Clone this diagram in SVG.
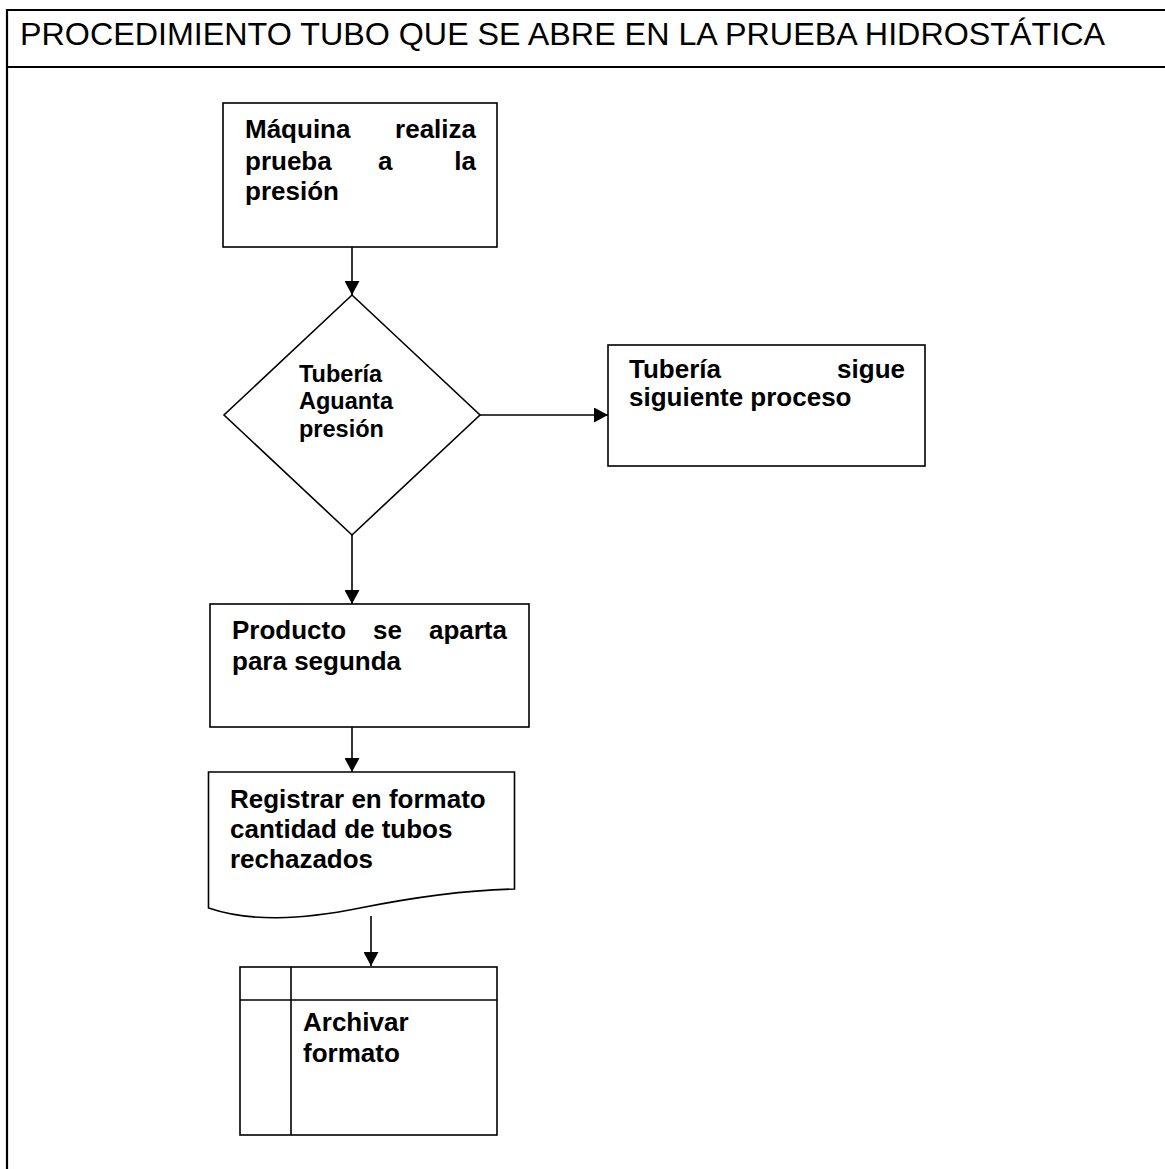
<svg xmlns="http://www.w3.org/2000/svg" width="1165" height="1169" viewBox="0 0 1165 1169">
  <style>
    .frame { fill: none; stroke: #000; stroke-width: 2.2; }
    .shape { fill: #fff; stroke: #000; stroke-width: 1.6; }
    .edge { fill: none; stroke: #000; stroke-width: 1.6; }
    .title { font-family: "Liberation Sans", Arial, sans-serif; font-size: 31px; fill: #000; }
    .lbl { font-family: "Liberation Sans", Arial, sans-serif; font-size: 26px; font-weight: bold; fill: #000; }
    .lbl-s { font-family: "Liberation Sans", Arial, sans-serif; font-size: 23.5px; font-weight: bold; fill: #000; }
  </style>
  <defs>
    <marker id="arrow" markerUnits="userSpaceOnUse" markerWidth="15" markerHeight="15" refX="14" refY="7.5" orient="auto">
      <path d="M0,0 L14,7.5 L0,15 Z" fill="#000"/>
    </marker>
  </defs>

  <rect width="1165" height="1169" fill="#fff"/>

  <!-- page frame with title band -->
  <g id="frame">
    <line class="frame" x1="7" y1="10" x2="1165" y2="10"/>
    <line class="frame" x1="7" y1="67" x2="1165" y2="67"/>
    <line class="frame" x1="7" y1="9" x2="7" y2="1169"/>
    <text class="title" x="20" y="45" textLength="1085" lengthAdjust="spacingAndGlyphs">PROCEDIMIENTO TUBO QUE SE ABRE EN LA PRUEBA HIDROSTÁTICA</text>
  </g>

  <!-- connectors -->
  <g id="connectors">
    <line class="edge" x1="352" y1="247" x2="352" y2="295" marker-end="url(#arrow)"/>
    <line class="edge" x1="480" y1="415" x2="608" y2="415" marker-end="url(#arrow)"/>
    <line class="edge" x1="352" y1="535" x2="352" y2="604" marker-end="url(#arrow)"/>
    <line class="edge" x1="352" y1="727" x2="352" y2="772" marker-end="url(#arrow)"/>
    <line class="edge" x1="371" y1="916" x2="371" y2="966" marker-end="url(#arrow)"/>
  </g>

  <!-- process: machine runs pressure test -->
  <g id="n-maquina">
    <rect class="shape" x="223" y="103" width="274" height="144"/>
    <text class="lbl" x="245" y="138">Máquina</text>
    <text class="lbl" x="476" y="138" text-anchor="end">realiza</text>
    <text class="lbl" x="245" y="170">prueba</text>
    <text class="lbl" x="378" y="170">a</text>
    <text class="lbl" x="476" y="170" text-anchor="end">la</text>
    <text class="lbl" x="245" y="200">presión</text>
  </g>

  <!-- decision -->
  <g id="n-decision">
    <polygon class="shape" points="352,295 480,415 352,535 224,415"/>
    <text class="lbl-s" x="299" y="382">Tubería</text>
    <text class="lbl-s" x="299" y="409">Aguanta</text>
    <text class="lbl-s" x="299" y="437">presión</text>
  </g>

  <!-- process: pipe continues -->
  <g id="n-sigue">
    <rect class="shape" x="608" y="345" width="317" height="121"/>
    <text class="lbl" x="629" y="378">Tubería</text>
    <text class="lbl" x="905" y="378" text-anchor="end">sigue</text>
    <text class="lbl" x="629" y="406">siguiente proceso</text>
  </g>

  <!-- process: set aside as second grade -->
  <g id="n-aparta">
    <rect class="shape" x="210" y="604" width="319" height="123"/>
    <text class="lbl" x="232" y="639">Producto</text>
    <text class="lbl" x="373" y="639">se</text>
    <text class="lbl" x="507" y="639" text-anchor="end">aparta</text>
    <text class="lbl" x="232" y="670">para segunda</text>
  </g>

  <!-- document: rejected pipes record -->
  <g id="n-registrar">
    <path class="shape" d="M208.5,772 H514.5 V889 C470,890 420,896 360,908 C300,920 250,922 208.5,908 Z"/>
    <text class="lbl" x="230" y="808">Registrar en formato</text>
    <text class="lbl" x="230" y="838">cantidad de tubos</text>
    <text class="lbl" x="230" y="868">rechazados</text>
  </g>

  <!-- archive -->
  <g id="n-archivar">
    <rect class="shape" x="240" y="967" width="257" height="168"/>
    <line class="edge" x1="240" y1="1000" x2="497" y2="1000"/>
    <line class="edge" x1="291" y1="967" x2="291" y2="1135"/>
    <text class="lbl" x="303" y="1031">Archivar</text>
    <text class="lbl" x="303" y="1062">formato</text>
  </g>
</svg>
